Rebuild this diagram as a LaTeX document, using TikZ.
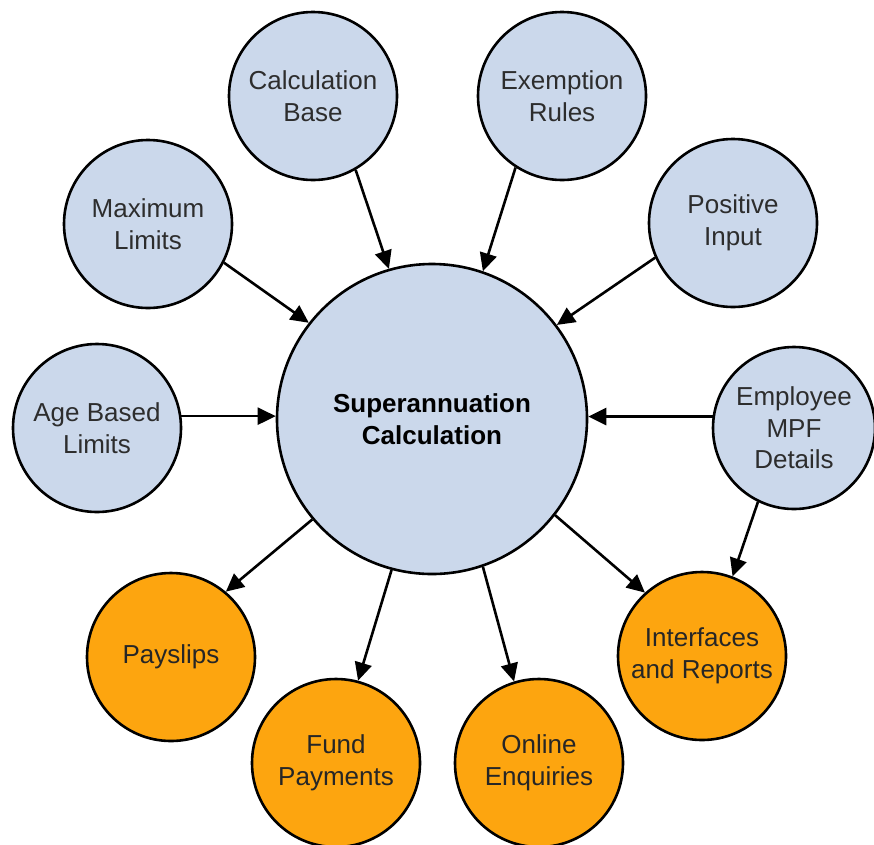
\documentclass[tikz,border=0pt]{standalone}
\usepackage{fontspec}
\setmainfont{Liberation Sans}
\usetikzlibrary{arrows.meta}
\definecolor{bluefill}{RGB}{203,216,235}
\definecolor{orangefill}{RGB}{253,165,15}
\definecolor{txtgray}{RGB}{45,45,45}
\begin{document}
\begin{tikzpicture}[x=1pt,y=-1pt,
  bubble/.style={circle,draw=black,line width=2.6pt,minimum size=168pt,inner sep=0pt,align=center,
    font=\fontsize{26}{31.5}\selectfont,text=txtgray},
  inbub/.style={bubble,fill=bluefill},
  outbub/.style={bubble,fill=orangefill,text=black!85},
  conn/.style={line width=2.6pt,-{Triangle[length=18pt,width=17pt]}}]
\useasboundingbox (0,0) rectangle (874,844);
\node[inbub,minimum size=310pt,text=black,font=\bfseries\fontsize{26}{31.5}\selectfont] (c) at (432,419) {Superannuation\\Calculation};
\node[inbub] (cb) at (313,96) {Calculation\\Base};
\node[inbub] (er) at (562,96) {Exemption\\Rules};
\node[inbub] (ml) at (148,224) {Maximum\\Limits};
\node[inbub] (pi) at (733,223) {Positive\\Input};
\node[inbub] (ab) at (97,428) {Age Based\\Limits};
\node[inbub,minimum size=162pt] (em) at (794,428) {Employee\\MPF\\Details};
\node[outbub] (ps) at (171,657) {Payslips};
\node[outbub] (fp) at (336,763) {Fund\\Payments};
\node[outbub] (oe) at (539,763) {Online\\Enquiries};
\node[outbub] (ir) at (702,656) {Interfaces\\and Reports};
\draw[conn] (cb.-60) -- (c.106.5);
\draw[conn] (ml.-27.5) -- (c.142.6);
\draw[conn] (ab.8) -- (c.west |- ab.8);
\draw[conn] (er.-123) -- (c.71);
\draw[conn] (pi.-156.6) -- (c.37);
\draw[conn] (em.172) -- (c.east |- em.172);
\draw[conn] (c.-140) -- (ps.50);
\draw[conn] (c.-105.5) -- (fp.75.5);
\draw[conn] (c.-71.7) -- (oe.107);
\draw[conn] (c.-38.8) -- (ir.132);
\draw[conn] (em.-116) -- (ir.69);
\end{tikzpicture}
\end{document}
